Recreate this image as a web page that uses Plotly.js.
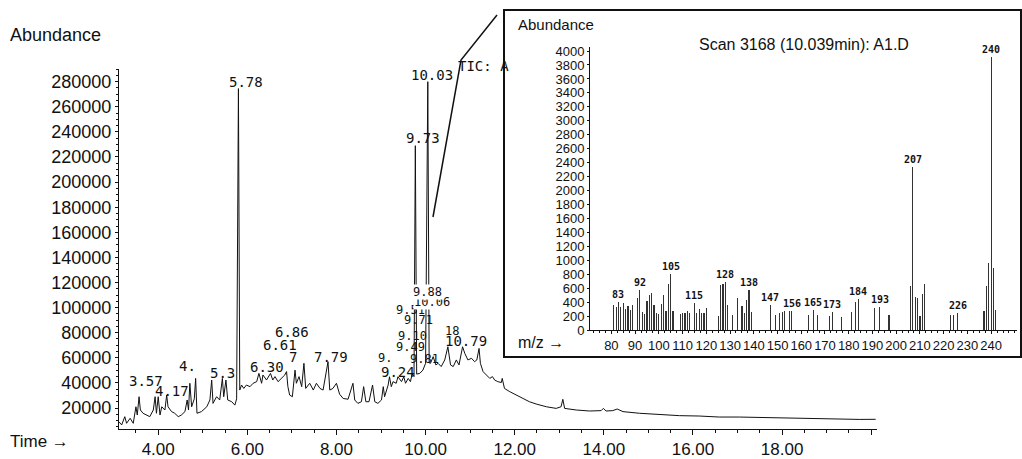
<!DOCTYPE html>
<html>
<head>
<meta charset="utf-8">
<script src="https://cdn.plot.ly/plotly-3.0.1.min.js"></script>
<style>html,body{margin:0;padding:0;background:#fff;}#chart{width:1022px;height:459px;}</style>
</head>
<body>
<div id="chart"></div>
<script>
// ---- Total ion chromatogram (time in min, abundance) ----
const ticTime = [3.12,3.18,3.25,3.29,3.37,3.44,3.50,3.53,3.57,3.60,3.66,3.74,3.81,3.89,3.93,3.96,4.00,4.04,4.08,4.15,4.19,4.22,4.30,4.37,4.45,4.52,4.60,4.65,4.68,4.71,4.75,4.81,4.84,4.87,4.97,5.09,5.16,5.20,5.23,5.31,5.38,5.44,5.47,5.52,5.56,5.65,5.72,5.76,5.80,5.83,5.87,5.92,5.98,6.06,6.13,6.21,6.26,6.32,6.35,6.43,6.52,6.57,6.62,6.69,6.77,6.84,6.88,6.91,6.95,7.01,7.07,7.10,7.16,7.22,7.27,7.31,7.40,7.48,7.55,7.63,7.70,7.81,7.85,7.92,8.00,8.07,8.15,8.26,8.37,8.41,8.48,8.56,8.61,8.66,8.73,8.81,8.86,8.93,9.01,9.05,9.08,9.16,9.19,9.23,9.27,9.34,9.38,9.46,9.51,9.55,9.61,9.66,9.70,9.74,9.77,9.80,9.87,9.94,10.00,10.05,10.08,10.11,10.17,10.23,10.28,10.35,10.43,10.50,10.56,10.62,10.69,10.75,10.83,10.88,10.95,11.03,11.10,11.15,11.20,11.23,11.29,11.36,11.44,11.50,11.55,11.62,11.70,11.72,11.77,11.89,12.04,12.18,12.33,12.48,12.71,12.93,13.04,13.08,13.12,13.38,13.68,13.94,13.99,14.05,14.20,14.30,14.43,14.80,15.25,15.70,16.14,16.59,17.04,17.49,17.94,18.39,18.84,19.28,19.73,20.10];
const ticAbund = [9000,6500,13100,7800,11800,7800,21000,14400,29000,18400,15800,14400,13100,18400,29000,15800,29000,14400,21000,18400,30300,21000,17100,15800,13100,14400,17100,26400,18400,39700,21000,27300,43600,15800,17100,21000,26400,42300,23700,29000,26400,43600,29000,42300,26400,25000,22300,27300,274500,34300,38300,35600,38300,37000,39700,41000,47600,39700,46300,42300,47600,42300,45000,41000,43600,46300,49000,37000,30300,29000,50200,39700,45000,37000,55600,35600,39700,34300,39700,35600,34300,56900,34300,35600,39700,31000,27600,27000,39700,26400,23700,25000,37000,25000,25000,38300,25000,23700,26400,37000,29000,38300,44900,37000,41000,39700,44900,41000,44900,39700,43600,41000,47600,45000,229000,47000,47600,50200,55600,280000,56000,55600,60900,54300,55600,53000,58300,68800,54300,53000,58300,54300,68800,63500,58300,59600,56900,58300,67500,55600,49000,46300,43600,45000,42300,41000,40300,43600,35600,33000,30300,27600,25000,23200,21000,19700,21000,26900,19700,18400,17600,17900,19700,17600,17900,19200,17100,15800,14700,13900,13600,12800,12800,12500,12200,11700,11200,11200,10900,11000];

// ---- Mass spectrum, scan 3168 (m/z, abundance) ----
const msMz = [81,82,83,84,85,86,87,88,89,91,92,93,94,95,96,97,98,99,100,101,102,103,104,105,106,109,110,111,112,113,115,116,117,118,119,120,125,126,127,128,129,131,133,135,136,137,138,139,147,149,151,152,153,155,156,163,165,167,172,173,177,181,183,184,191,193,197,206,207,208,209,210,211,212,223,224,226,237,238,239,240,241,242];
const msAbund = [358,334,406,334,382,296,349,287,358,454,573,263,225,416,502,526,358,239,225,368,502,272,655,798,272,225,239,239,272,239,382,239,301,239,239,311,200,645,655,693,358,215,454,349,239,430,573,263,358,215,240,265,272,272,272,215,287,215,205,263,191,254,406,444,311,334,215,631,2340,478,454,205,516,660,215,215,240,272,631,960,3910,890,287];
const msLabelled = [83,92,105,115,128,138,147,156,165,173,184,193,207,226,240];

// ---- tick labels ----
const timeTicks = [4,6,8,10,12,14,16,18,20];
const timeTickText = ['4.00','6.00','8.00','10.00','12.00','14.00','16.00','18.00',''];
const mzTicks = [80,90,100,110,120,130,140,150,160,170,180,190,200,210,220,230,240];

// ---- peak labels on the chromatogram (text) ----
const peakLabels = ['5.78','10.03','9.73','9.49','9.81','9.','9.24','9.10','18','10.79','9.71','9.51','10.06','9.88','3.57','4.17','4.','5.3','6.30','6.86','6.61','7','7.79'];

const W = 1022, H = 459;
const px = x => x / W;
const py = y => 1 - y / H;

// label placement (pixels) for each chromatogram label, in the same order
const peakLabelPos = [[246,82],[432,75],[423,138],[410,347],[424,359],[385,358],[398,372],[412,336],[452,331],[466,341],[418,320],[410,310],[432,302],[427,292],[146,381],[172,391],[187,366],[222,373],[267,367],[292,332],[280,345],[293,357],[331,357]];
const clusterLabels = new Set(['9.49','9.81','9.','9.10','18','9.71','9.51','10.06','9.88']);
const whiteBg = new Set(['9.88','10.06']);

const main = {
  x: ticTime, y: ticAbund, type: 'scatter', mode: 'lines',
  line: {color: '#111', width: 1}, xaxis: 'x', yaxis: 'y', hoverinfo: 'skip'
};
const ms = {
  x: msMz, y: msAbund, type: 'bar', width: 0.5,
  marker: {color: '#333', line: {width: 0}}, xaxis: 'x2', yaxis: 'y2', hoverinfo: 'skip'
};

const annotations = [];
const txtFont = {family: 'Liberation Sans, Arial, sans-serif', color: '#111'};
const lblFont = {family: 'DejaVu Sans Mono, monospace', size: 14, color: '#111'};
const lblFontSmall = {family: 'DejaVu Sans Mono, monospace', size: 12, color: '#111'};
annotations.push({xref:'paper', yref:'paper', x:px(8), y:py(35), xanchor:'left', yanchor:'middle', text:'Abundance', showarrow:false, font:Object.assign({size:18}, txtFont)});
annotations.push({xref:'paper', yref:'paper', x:px(8), y:py(441), xanchor:'left', yanchor:'middle', text:'Time \u2192', showarrow:false, font:Object.assign({size:17}, txtFont)});
annotations.push({xref:'paper', yref:'paper', x:px(456), y:py(66), xanchor:'left', yanchor:'middle', text:'TIC: A', showarrow:false, font:lblFont});
peakLabels.forEach((t, i) => {
  const p = peakLabelPos[i];
  annotations.push({xref:'paper', yref:'paper', x:px(p[0]), y:py(p[1]), xanchor:'center', yanchor:'middle', text:t, showarrow:false,
    bgcolor: whiteBg.has(t) ? '#fff' : 'rgba(0,0,0,0)', borderpad:0,
    font: clusterLabels.has(t) ? lblFontSmall : lblFont});
});
// inset texts
annotations.push({xref:'paper', yref:'paper', x:px(516), y:py(25), xanchor:'left', yanchor:'middle', text:'Abundance', showarrow:false, font:Object.assign({size:15}, txtFont)});
annotations.push({xref:'paper', yref:'paper', x:px(804), y:py(45), xanchor:'center', yanchor:'middle', text:'Scan 3168 (10.039min): A1.D', showarrow:false, font:Object.assign({size:16}, txtFont)});
annotations.push({xref:'paper', yref:'paper', x:px(516), y:py(342), xanchor:'left', yanchor:'middle', text:'m/z \u2192', showarrow:false, font:Object.assign({size:16}, txtFont)});
msLabelled.forEach(m => {
  const i = msMz.indexOf(m);
  annotations.push({xref:'x2', yref:'y2', x:m, y:msAbund[i], xanchor:'center', yanchor:'bottom', yshift:0, text:String(m), showarrow:false,
    font:{family:'DejaVu Sans Mono, monospace', size:10, weight:'bold', color:'#111'}});
});

const shapes = [
  {type:'rect', xref:'paper', yref:'paper', x0:px(504), x1:px(1021), y0:py(357), y1:py(10), line:{color:'#111', width:2}, fillcolor:'#fff', layer:'below'},
  {type:'path', xref:'paper', yref:'paper', path:`M ${px(433)} ${py(217)} L ${px(461)} ${py(60)} L ${px(497)} ${py(15)}`, line:{color:'#111', width:1.5}}
];

const layout = {
  width: W, height: H, autosize: false,
  margin: {l:0, r:0, t:0, b:0},
  paper_bgcolor: '#fff', plot_bgcolor: 'rgba(0,0,0,0)',
  showlegend: false,
  xaxis: {
    domain: [px(119), px(877)], range: [3.12, 20.13], anchor: 'y',
    showgrid: false, zeroline: false, showline: true, linecolor: '#111', linewidth: 1,
    tickmode: 'array', tickvals: timeTicks, ticktext: timeTickText, tickangle: 0,
    ticks: 'outside', ticklen: 5, tickcolor: '#111',
    minor: {tickmode: 'linear', tick0: 0, dtick: 0.5, ticks: 'outside', ticklen: 3, tickcolor: '#111', showgrid: false},
    tickfont: {family: 'Liberation Sans, Arial, sans-serif', size: 17, color: '#111'}
  },
  yaxis: {
    domain: [py(429), py(69)], range: [3270, 290100], anchor: 'x',
    showgrid: false, zeroline: false, showline: true, linecolor: '#111', linewidth: 1,
    tickmode: 'linear', tick0: 0, dtick: 20000, tickformat: 'd',
    ticks: 'outside', ticklen: 3, tickcolor: '#111',
    minor: {tickmode: 'linear', tick0: 0, dtick: 5000, ticks: 'outside', ticklen: 2, tickcolor: '#111', showgrid: false},
    tickfont: {family: 'Liberation Sans, Arial, sans-serif', size: 18, color: '#111'}
  },
  xaxis2: {
    domain: [px(590), px(1017)], range: [71.0, 250.9], anchor: 'y2',
    showgrid: false, zeroline: false, showline: true, linecolor: '#111', linewidth: 1,
    tickmode: 'array', tickvals: mzTicks, tickangle: 0,
    ticks: 'outside', ticklen: 3, tickcolor: '#111',
    minor: {tickmode: 'linear', tick0: 0, dtick: 2.5, ticks: 'outside', ticklen: 2, tickcolor: '#111', showgrid: false},
    tickfont: {family: 'Liberation Sans, Arial, sans-serif', size: 13, color: '#111'}
  },
  yaxis2: {
    domain: [py(330), py(47)], range: [0, 4058], anchor: 'x2',
    showgrid: false, zeroline: false, showline: true, linecolor: '#111', linewidth: 1,
    tickmode: 'linear', tick0: 0, dtick: 200,
    ticks: 'outside', ticklen: 2, tickcolor: '#111',
    tickfont: {family: 'Liberation Sans, Arial, sans-serif', size: 13, color: '#111'}
  },
  bargap: 0,
  shapes: shapes,
  annotations: annotations
};

Plotly.newPlot('chart', [main, ms], layout, {staticPlot: true, displayModeBar: false});
</script>
</body>
</html>
